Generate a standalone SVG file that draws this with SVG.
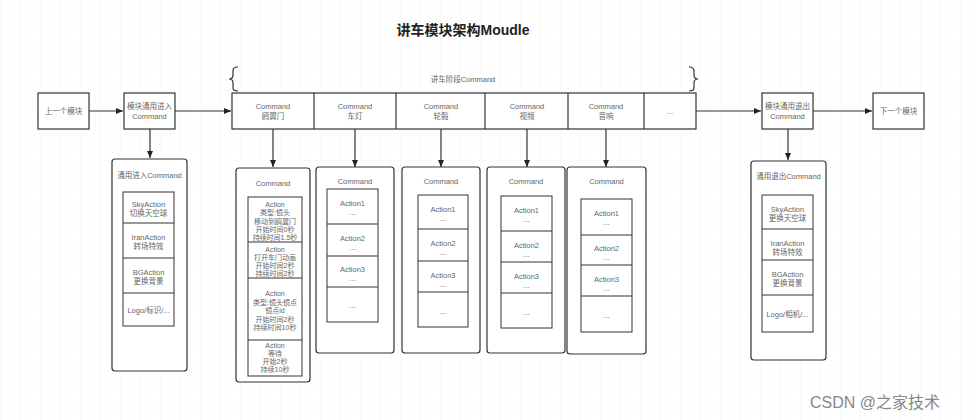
<svg xmlns="http://www.w3.org/2000/svg" width="974" height="420" viewBox="0 0 974 420">
<defs>
<pattern id="grid" width="10" height="10" patternUnits="userSpaceOnUse">
<path d="M10 0H0V10" fill="none" stroke="#ececec" stroke-width="0.6"/>
</pattern>
<marker id="arr" markerWidth="8" markerHeight="8" refX="7" refY="4" orient="auto" markerUnits="userSpaceOnUse">
<path d="M0 1 L7 4 L0 7 Z" fill="#222"/>
</marker>
<style>
text{font-family:"Liberation Sans","Noto Sans CJK SC",sans-serif;fill:#666;font-size:7.5px;text-anchor:middle;dominant-baseline:central}
.title{font-size:14px;font-weight:bold;fill:#222}
.small{font-size:7px}
.box{fill:#fff;stroke:#333;stroke-width:1.2}
.outer{fill:#fff;stroke:#333;stroke-width:1.2}
.inner{fill:#fff;stroke:#333;stroke-width:1}
.line{fill:none;stroke:#333;stroke-width:1.2}
.wm{font-size:16px;fill:#888;text-anchor:start}
</style>
</defs>
<rect width="974" height="420" fill="#fff"/>
<rect width="974" height="420" fill="url(#grid)"/>
<text class="title" x="463" y="30">讲车模块架构Moudle</text>

<g id="connectors">
<line class="line" x1="89" y1="111" x2="123" y2="111" marker-end="url(#arr)"/>
<line class="line" x1="175" y1="111" x2="231" y2="111" marker-end="url(#arr)"/>
<line class="line" x1="696" y1="111" x2="761" y2="111" marker-end="url(#arr)"/>
<line class="line" x1="813" y1="111" x2="872" y2="111" marker-end="url(#arr)"/>
<line class="line" x1="150" y1="129" x2="150" y2="158" marker-end="url(#arr)"/>
<line class="line" x1="273" y1="129" x2="273" y2="167" marker-end="url(#arr)"/>
<line class="line" x1="355" y1="129" x2="355" y2="167" marker-end="url(#arr)"/>
<line class="line" x1="441" y1="129" x2="441" y2="167" marker-end="url(#arr)"/>
<line class="line" x1="527" y1="129" x2="527" y2="167" marker-end="url(#arr)"/>
<line class="line" x1="606" y1="129" x2="606" y2="167" marker-end="url(#arr)"/>
<line class="line" x1="788" y1="129" x2="788" y2="160" marker-end="url(#arr)"/>
</g>

<g id="prev">
<rect class="box" x="38" y="93" width="51" height="36"/>
<text x="63.5" y="111">上一个模块</text>
</g>
<g id="enter">
<rect class="box" x="124" y="93" width="51" height="36"/>
<text x="149.5" y="106">模块通用进入</text>
<text x="149.5" y="116">Command</text>
</g>

<g id="stage">
<path class="line" d="M238 67 Q233 67 233 71 L233 75 Q233 79 229 79 Q233 79 233 83 L233 88 Q233 91 238 91" stroke-width="1"/>
<path class="line" d="M689 67 Q694 67 694 71 L694 75 Q694 79 698 79 Q694 79 694 83 L694 88 Q694 91 689 91" stroke-width="1"/>
<text x="463" y="79">讲车阶段Command</text>
<rect class="box" x="232" y="93" width="464" height="36"/>
<line class="line" x1="314" y1="93" x2="314" y2="129"/>
<line class="line" x1="396" y1="93" x2="396" y2="129" stroke-width="1.6"/>
<line class="line" x1="485" y1="93" x2="485" y2="129"/>
<line class="line" x1="568" y1="93" x2="568" y2="129"/>
<line class="line" x1="644" y1="93" x2="644" y2="129"/>
<text x="273" y="106">Command</text><text x="273" y="116">鸥翼门</text>
<text x="355" y="106">Command</text><text x="355" y="116">车灯</text>
<text x="441" y="106">Command</text><text x="441" y="116">轮毂</text>
<text x="527" y="106">Command</text><text x="527" y="116">视频</text>
<text x="606" y="106">Command</text><text x="606" y="116">音响</text>
<text x="670" y="111">...</text>
</g>

<g id="exit">
<rect class="box" x="762" y="93" width="51" height="36"/>
<text x="787.5" y="106">模块通用退出</text>
<text x="787.5" y="116">Command</text>
</g>
<g id="next">
<rect class="box" x="873" y="93" width="51" height="36"/>
<text x="898.5" y="111">下一个模块</text>
</g>

<g id="enter-col">
<rect class="outer" x="112" y="159" width="75" height="212" rx="3"/>
<text x="149.5" y="175">通用进入Command</text>
<rect class="inner" x="123" y="192" width="51" height="134"/>
<line class="line" x1="123" y1="223" x2="174" y2="223" stroke-width="1"/>
<line class="line" x1="123" y1="258" x2="174" y2="258" stroke-width="1"/>
<line class="line" x1="123" y1="293" x2="174" y2="293" stroke-width="1"/>
<text x="148.5" y="204">SkyAction</text><text x="148.5" y="213">切换天空球</text>
<text x="148.5" y="237">IranAction</text><text x="148.5" y="246">转场特效</text>
<text x="148.5" y="272">BGAction</text><text x="148.5" y="281">更换背景</text>
<text x="148.5" y="310">Logo/标识/...</text>
</g>

<g id="col-door">
<rect class="outer" x="236" y="168" width="74" height="214" rx="3"/>
<text x="273" y="183">Command</text>
<rect class="inner" x="248" y="197" width="54" height="179"/>
<line class="line" x1="248" y1="242" x2="302" y2="242" stroke-width="1"/>
<line class="line" x1="248" y1="278" x2="302" y2="278" stroke-width="1"/>
<line class="line" x1="248" y1="340" x2="302" y2="340" stroke-width="1"/>
<g class="small">
<text class="small" x="275" y="204">Action</text>
<text class="small" x="275" y="212">类型:镜头</text>
<text class="small" x="275" y="221">移动到鸥翼门</text>
<text class="small" x="275" y="229">开始时间0秒</text>
<text class="small" x="275" y="237">持续时间1.5秒</text>
<text class="small" x="275" y="249">Action</text>
<text class="small" x="275" y="257">打开车门动画</text>
<text class="small" x="275" y="265">开始时间2秒</text>
<text class="small" x="275" y="273">持续时间2秒</text>
<text class="small" x="275" y="293">Action</text>
<text class="small" x="275" y="302">类型:镜头镜点</text>
<text class="small" x="275" y="310">镜点id</text>
<text class="small" x="275" y="319">开始时间2秒</text>
<text class="small" x="275" y="327">持续时间10秒</text>
<text class="small" x="275" y="345">Action</text>
<text class="small" x="275" y="353">等待</text>
<text class="small" x="275" y="361">开始2秒</text>
<text class="small" x="275" y="369">持续10秒</text>
</g>
</g>

<g id="col-light">
<rect class="outer" x="316" y="167" width="78" height="186" rx="3"/>
<text x="355" y="181">Command</text>
<rect class="inner" x="327" y="189" width="51" height="133"/>
<line class="line" x1="327" y1="224" x2="378" y2="224" stroke-width="1"/>
<line class="line" x1="327" y1="256" x2="378" y2="256" stroke-width="1"/>
<line class="line" x1="327" y1="287" x2="378" y2="287" stroke-width="1"/>
<text x="352.5" y="203">Action1</text><text x="352.5" y="212">...</text>
<text x="352.5" y="238">Action2</text><text x="352.5" y="247">...</text>
<text x="352.5" y="269">Action3</text><text x="352.5" y="278">...</text>
<text x="352.5" y="305">...</text>
</g>

<g id="col-wheel">
<rect class="outer" x="402" y="167" width="78" height="186" rx="3"/>
<text x="441" y="181">Command</text>
<rect class="inner" x="418" y="195" width="50" height="132"/>
<line class="line" x1="418" y1="229" x2="468" y2="229" stroke-width="1"/>
<line class="line" x1="418" y1="261" x2="468" y2="261" stroke-width="1"/>
<line class="line" x1="418" y1="292" x2="468" y2="292" stroke-width="1"/>
<text x="443" y="209">Action1</text><text x="443" y="218">...</text>
<text x="443" y="243">Action2</text><text x="443" y="252">...</text>
<text x="443" y="275">Action3</text><text x="443" y="284">...</text>
<text x="443" y="311">...</text>
</g>

<g id="col-video">
<rect class="outer" x="487" y="167" width="78" height="186" rx="3"/>
<text x="526" y="181">Command</text>
<rect class="inner" x="501" y="196" width="51" height="132"/>
<line class="line" x1="501" y1="231" x2="552" y2="231" stroke-width="1"/>
<line class="line" x1="501" y1="262" x2="552" y2="262" stroke-width="1"/>
<line class="line" x1="501" y1="293" x2="552" y2="293" stroke-width="1"/>
<text x="526.5" y="210">Action1</text><text x="526.5" y="219">...</text>
<text x="526.5" y="245">Action2</text><text x="526.5" y="254">...</text>
<text x="526.5" y="276">Action3</text><text x="526.5" y="285">...</text>
<text x="526.5" y="312">...</text>
</g>

<g id="col-audio">
<rect class="outer" x="567" y="167" width="79" height="187" rx="3"/>
<text x="606.5" y="181">Command</text>
<rect class="inner" x="581" y="199" width="51" height="133"/>
<line class="line" x1="581" y1="235" x2="632" y2="235" stroke-width="1"/>
<line class="line" x1="581" y1="265" x2="632" y2="265" stroke-width="1"/>
<line class="line" x1="581" y1="296" x2="632" y2="296" stroke-width="1"/>
<text x="606.5" y="213">Action1</text><text x="606.5" y="222">...</text>
<text x="606.5" y="248">Action2</text><text x="606.5" y="257">...</text>
<text x="606.5" y="279">Action3</text><text x="606.5" y="288">...</text>
<text x="606.5" y="315">...</text>
</g>

<g id="exit-col">
<rect class="outer" x="751" y="161" width="75" height="199" rx="3"/>
<text x="788.5" y="176">通用退出Command</text>
<rect class="inner" x="762" y="195" width="51" height="137"/>
<line class="line" x1="762" y1="229" x2="813" y2="229" stroke-width="1"/>
<line class="line" x1="762" y1="260" x2="813" y2="260" stroke-width="1"/>
<line class="line" x1="762" y1="295" x2="813" y2="295" stroke-width="1"/>
<text x="787.5" y="209">SkyAction</text><text x="787.5" y="218">更换天空球</text>
<text x="787.5" y="243">IranAction</text><text x="787.5" y="252">转场特效</text>
<text x="787.5" y="274">BGAction</text><text x="787.5" y="283">更换背景</text>
<text x="787.5" y="314">Logo/相机/...</text>
</g>

<text class="wm" x="810" y="402">CSDN @之家技术</text>
</svg>
